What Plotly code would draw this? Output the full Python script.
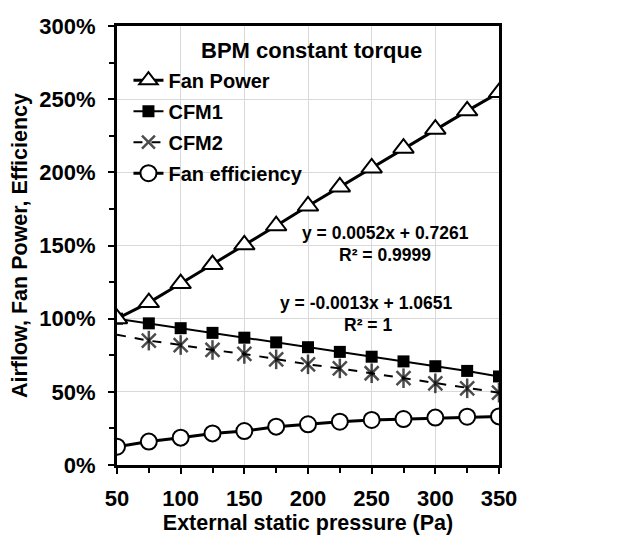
import plotly.graph_objects as go

pressure = [50, 75, 100, 125, 150, 175, 200, 225, 250, 275, 300, 325, 350]
fan_power = [1.00, 1.11, 1.24, 1.37, 1.505, 1.635, 1.77, 1.90, 2.03, 2.165, 2.295, 2.42, 2.545]
cfm1 = [1.00, 0.968, 0.935, 0.903, 0.87, 0.838, 0.805, 0.773, 0.74, 0.708, 0.675, 0.643, 0.605]
cfm2 = [0.89, 0.85, 0.82, 0.786, 0.759, 0.722, 0.688, 0.66, 0.627, 0.593, 0.558, 0.524, 0.494]
fan_eff = [0.125, 0.16, 0.187, 0.216, 0.232, 0.262, 0.278, 0.296, 0.308, 0.314, 0.324, 0.33, 0.332]

legend_title = "BPM constant torque"
eq1 = "y = 0.0052x + 0.7261"
r1 = "R² = 0.9999"
eq2 = "y = -0.0013x + 1.0651"
r2 = "R² = 1"

FONT = "Liberation Sans, Arial, sans-serif"
star_sizes = [0] + [14] * (len(pressure) - 1)

fig = go.Figure()

fig.add_trace(go.Scatter(
    x=pressure, y=cfm1, name="CFM1", mode="lines+markers", legendrank=2, legendgroup="b",
    line=dict(color="black", width=2),
    marker=dict(symbol="square", size=12, color="black"),
))
fig.add_trace(go.Scatter(
    x=pressure, y=cfm2, name="CFM2", mode="lines+markers", legendrank=3, legendgroup="c",
    line=dict(color="black", width=2, dash="dash"),
    marker=dict(symbol="x-thin-open", size=star_sizes,
                line=dict(color="black", width=2.5), color="black"),
))
fig.add_trace(go.Scatter(
    x=pressure, y=cfm2, name="CFM2", mode="markers", showlegend=False, legendgroup="c",
    marker=dict(symbol="line-ns-open", size=star_sizes,
                line=dict(color="black", width=2.5), color="black"),
    hoverinfo="skip",
))
fig.add_trace(go.Scatter(
    x=pressure, y=fan_eff, name="Fan efficiency", mode="lines+markers", legendrank=4, legendgroup="d",
    line=dict(color="black", width=3),
    marker=dict(symbol="circle", size=16, color="white",
                line=dict(color="black", width=2)),
))
fig.add_trace(go.Scatter(
    x=pressure, y=fan_power, name="Fan Power", mode="lines+markers", legendrank=1, legendgroup="a",
    line=dict(color="black", width=3),
    marker=dict(symbol="triangle-up", size=18, color="white",
                line=dict(color="black", width=2)),
))

fig.update_layout(
    width=611, height=531,
    margin=dict(l=109, r=120, t=18, b=74, autoexpand=False),
    paper_bgcolor="white", plot_bgcolor="white",
    font=dict(family=FONT, color="black", size=18),
    showlegend=True,
    legend=dict(
        x=0.03, y=0.921, xanchor="left", yanchor="top",
        bgcolor="rgba(0,0,0,0)", tracegroupgap=2,
        font=dict(family=FONT, size=20, color="black", weight="bold"),
        itemwidth=30,
    ),
    xaxis=dict(
        range=[50, 350], tickvals=[50, 100, 150, 200, 250, 300, 350],
        ticks="outside", ticklen=6, tickwidth=2, tickcolor="black", ticklabelstandoff=6,
        minor=dict(dtick=25, tick0=50, ticks="outside", ticklen=5, tickwidth=2, tickcolor="black", showgrid=False),
        showgrid=True, gridcolor="#d9d9d9", gridwidth=1,
        showline=True, linecolor="black", linewidth=3, mirror=True,
        tickfont=dict(family=FONT, size=22, color="black", weight="bold"),
        title=dict(text="<b>External static pressure (Pa)</b>", standoff=2,
                   font=dict(family=FONT, size=21.5, color="black")),
        zeroline=False, automargin=False,
    ),
    yaxis=dict(
        range=[0, 3], tickvals=[0, 0.5, 1, 1.5, 2, 2.5, 3], tickformat=".0%",
        ticks="outside", ticklen=6, tickwidth=2, tickcolor="black", ticklabelstandoff=8,
        minor=dict(dtick=0.25, tick0=0, ticks="outside", ticklen=5, tickwidth=2, tickcolor="black", showgrid=False),
        showgrid=True, gridcolor="#d9d9d9", gridwidth=1,
        showline=True, linecolor="black", linewidth=3, mirror=True,
        tickfont=dict(family=FONT, size=22, color="black", weight="bold"),
        title=dict(text="<b>Airflow, Fan Power, Efficiency</b>", standoff=8,
                   font=dict(family=FONT, size=21.5, color="black")),
        zeroline=False, automargin=False,
    ),
)

fig.add_annotation(text="<b>" + legend_title + "</b>", x=0.51, y=0.945, xref="paper", yref="paper",
                   showarrow=False, xanchor="center", yanchor="middle",
                   font=dict(family=FONT, size=22, color="black"))
for text, xv, yv in [(eq1, 0.7016, 0.528), (r1, 0.7016, 0.478), (eq2, 0.652, 0.369), (r2, 0.657, 0.319)]:
    fig.add_annotation(text="<b>" + text + "</b>", x=xv, y=yv, xref="paper", yref="paper",
                       showarrow=False, xanchor="center", yanchor="middle",
                       font=dict(family=FONT, size=17.5, color="black"))

fig.write_html("out.html")
